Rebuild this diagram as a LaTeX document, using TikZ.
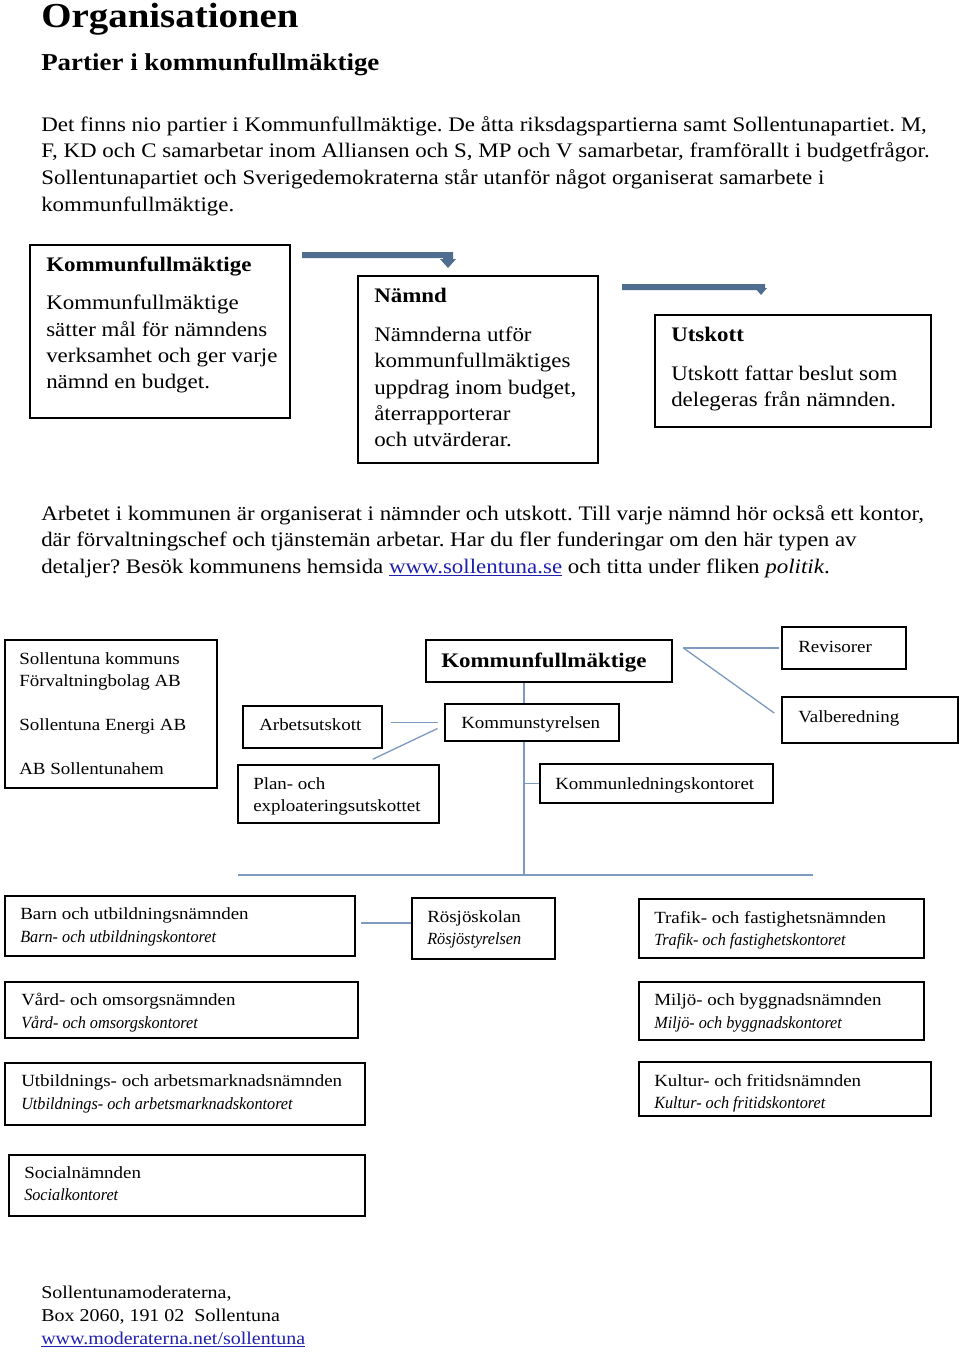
\documentclass[tikz,border=0pt]{standalone}
\usepackage{fontspec}
\setmainfont[FakeStretch=1.11]{Liberation Serif}
\newfontfamily\condit[FakeStretch=0.95]{Liberation Serif}
\usetikzlibrary{fit,calc}
\definecolor{conn}{HTML}{7F9AC0}
\definecolor{arrowc}{HTML}{4F6D8F}
\definecolor{linkc}{HTML}{1F1FB0}
\newcommand{\lnk}[1]{\textcolor{linkc}{\underline{#1}}}
\frenchspacing
\tikzset{
  box/.style={draw=black, line width=1.2pt, inner sep=0pt, rectangle},
  conline/.style={draw=conn, line width=1pt},
  t/.style={anchor=base west, inner sep=0pt, font=\fontsize{15.5}{18}\selectfont},
  tb/.style={anchor=base west, inner sep=0pt, font=\fontsize{15.5}{18}\selectfont\bfseries},
  s/.style={anchor=base west, inner sep=0pt, font=\fontsize{12.8}{15}\selectfont},
  si/.style={anchor=base west, inner sep=0pt, font=\fontsize{12.8}{15}\selectfont\condit\itshape},
  ft/.style={anchor=base west, inner sep=0pt, font=\fontsize{13.5}{16}\selectfont},
}
\begin{document}
\begin{tikzpicture}[x=0.75pt,y=-0.75pt]
\useasboundingbox (0,0) rectangle (960,1352);

% headings
\node[anchor=base west, inner sep=0pt, font=\fontsize{26.3}{30}\selectfont\bfseries] (h1) at (41,28) {Organisationen};
\node[anchor=base west, inner sep=0pt, font=\fontsize{18.2}{22}\selectfont\bfseries] (h2) at (41,71) {Partier i kommunfullmäktige};

% paragraph 1
\node[t] (p1) at (41,132) {Det finns nio partier i Kommunfullmäktige. De åtta riksdagspartierna samt Sollentunapartiet. M,};
\node[t] (p2) at (41,158) {F, KD och C samarbetar inom Alliansen och S, MP och V samarbetar, framförallt i budgetfrågor.};
\node[t] (p3) at (41,185) {Sollentunapartiet och Sverigedemokraterna står utanför något organiserat samarbete i};
\node[t] (p4) at (41,211) {kommunfullmäktige.};

% top boxes
\node[box, fit={(30,245) (290,418)}] (kfb) {};
\node[tb] (kfbt) at (46,271) {Kommunfullmäktige};
\node[t] (kfb1) at (46,309) {Kommunfullmäktige};
\node[t] (kfb2) at (46,336) {sätter mål för nämndens};
\node[t] (kfb3) at (46,362) {verksamhet och ger varje};
\node[t] (kfb4) at (46,388) {nämnd en budget.};

\node[box, fit={(358,276) (598,463)}] (nb) {};
\node[tb] (nbt) at (374,302) {Nämnd};
\node[t] (nb1) at (374,341) {Nämnderna utför};
\node[t] (nb2) at (374,367) {kommunfullmäktiges};
\node[t] (nb3) at (374,394) {uppdrag inom budget,};
\node[t] (nb4) at (374,420) {återrapporterar};
\node[t] (nb5) at (374,446) {och utvärderar.};

\node[box, fit={(655,315) (931,427)}] (ub) {};
\node[tb] (ubt) at (671,341) {Utskott};
\node[t] (ub1) at (671,380) {Utskott fattar beslut som};
\node[t] (ub2) at (671,406) {delegeras från nämnden.};

% top arrows
\coordinate (a1s) at (302,255);
\coordinate (a1e) at (448,255);
\fill[arrowc] ($(a1s)+(0,-3)$) -- ($(a1e)+(5,-3)$) -- ($(a1e)+(5,4)$) -- ($(a1e)+(8,4)$) -- ($(a1e)+(0,13)$) -- ($(a1e)+(-8,4)$) -- ($(a1e)+(-5,4)$) -- ($(a1e)+(-5,3)$) -- ($(a1s)+(0,3)$) -- cycle;
\coordinate (a2s) at (622,287);
\coordinate (a2e) at (761,287);
\fill[arrowc] ($(a2s)+(0,-3)$) -- ($(a2e)+(4,-3)$) -- ($(a2e)+(4,1)$) -- ($(a2e)+(6,1)$) -- ($(a2e)+(0,8)$) -- ($(a2e)+(-6,1)$) -- ($(a2e)+(-4,1)$) -- ($(a2e)+(-4,3)$) -- ($(a2s)+(0,3)$) -- cycle;

% paragraph 2
\node[t] (q1) at (41,520) {Arbetet i kommunen är organiserat i nämnder och utskott. Till varje nämnd hör också ett kontor,};
\node[t] (q2) at (41,546) {där förvaltningschef och tjänstemän arbetar. Har du fler funderingar om den här typen av};
\node[t] (q3) at (41,573) {detaljer? Besök kommunens hemsida \lnk{www.sollentuna.se} och titta under fliken \textit{politik}.};

% org chart
\node[box, fit={(5,640) (217,788)}] (bol) {};
\node[s] (bol1) at (19,664) {Sollentuna kommuns};
\node[s] (bol2) at (19,686) {Förvaltningbolag AB};
\node[s] (bol3) at (19,730) {Sollentuna Energi AB};
\node[s] (bol4) at (19,774) {AB Sollentunahem};

\node[box, fit={(426,640) (672,682)}] (kf) {};
\node[tb] (kft) at (441,667) {Kommunfullmäktige};

\node[box, fit={(782,627) (906,669)}] (rev) {};
\node[s] (revt) at (798,652) {Revisorer};
\node[box, fit={(782,697) (958,743)}] (val) {};
\node[s] (valt) at (798,722) {Valberedning};

\node[box, fit={(243,706) (382,748)}] (au) {};
\node[s] (aut) at (259,730) {Arbetsutskott};
\node[box, fit={(445,704) (619,741)}] (ks) {};
\node[s] (kst) at (461,728) {Kommunstyrelsen};
\node[box, fit={(238,765) (439,823)}] (pe) {};
\node[s] (pe1) at (253,789) {Plan- och};
\node[s] (pe2) at (253,811) {exploateringsutskottet};
\node[box, fit={(540,764) (773,803)}] (klk) {};
\node[s] (klkt) at (555,789) {Kommunledningskontoret};

\coordinate (spine) at (524,0);
\coordinate (hl) at (238,875);
\coordinate (hr) at (813,875);
\draw[conline] (kf.south -| spine) -- (ks.north -| spine);
\draw[conline] (ks.south -| spine) -- (spine |- hl);
\draw[conline] (hl) -- (hr);
\draw[conline] (spine |- klk.west) -- (klk.west);
\draw[conline] ([xshift=-5]ks.west) -- ([xshift=6]ks.west -| au.east);
\draw[conline] ([xshift=-5]ks.west) ++(0,6) -- ([shift={(-67,-5)}]pe.north east);
\draw[conline] ([xshift=8]rev.west -| kf.east) -- ([xshift=-2]rev.west);
\draw[conline] ([xshift=8]rev.west -| kf.east) -- ([shift={(-7,-7)}]val.west);

% bottom boxes
\node[box, fit={(5,896) (355,956)}] (bun) {};
\node[s] (bun1) at (20,919) {Barn och utbildningsnämnden};
\node[si] (bun2) at (20,942) {Barn- och utbildningskontoret};
\node[box, fit={(412,898) (555,959)}] (ros) {};
\node[s] (ros1) at (427,922) {Rösjöskolan};
\node[si] (ros2) at (427,944) {Rösjöstyrelsen};
\draw[conline] ([shift={(5,-3)}]bun.east) -- ([shift={(0,-3)}]bun.east -| ros.west);
\node[box, fit={(639,899) (924,958)}] (tfn) {};
\node[s] (tfn1) at (654,923) {Trafik- och fastighetsnämnden};
\node[si] (tfn2) at (654,945) {Trafik- och fastighetskontoret};

\node[box, fit={(5,982) (358,1038)}] (von) {};
\node[s] (von1) at (21,1005) {Vård- och omsorgsnämnden};
\node[si] (von2) at (21,1028) {Vård- och omsorgskontoret};
\node[box, fit={(639,982) (924,1040)}] (mbn) {};
\node[s] (mbn1) at (654,1005) {Miljö- och byggnadsnämnden};
\node[si] (mbn2) at (654,1028) {Miljö- och byggnadskontoret};

\node[box, fit={(5,1063) (365,1125)}] (uan) {};
\node[s] (uan1) at (21,1086) {Utbildnings- och arbetsmarknadsnämnden};
\node[si] (uan2) at (21,1109) {Utbildnings- och arbetsmarknadskontoret};
\node[box, fit={(639,1062) (931,1116)}] (kfn) {};
\node[s] (kfn1) at (654,1086) {Kultur- och fritidsnämnden};
\node[si] (kfn2) at (654,1108) {Kultur- och fritidskontoret};

\node[box, fit={(9,1155) (365,1216)}] (son) {};
\node[s] (son1) at (24,1178) {Socialnämnden};
\node[si] (son2) at (24,1200) {Socialkontoret};

% footer
\node[ft] (f1) at (41,1298) {Sollentunamoderaterna,};
\node[ft] (f2) at (41,1321) {Box 2060, 191 02\ \ Sollentuna};
\node[ft] (f3) at (41,1344) {\lnk{www.moderaterna.net/sollentuna}};
\end{tikzpicture}
\end{document}
